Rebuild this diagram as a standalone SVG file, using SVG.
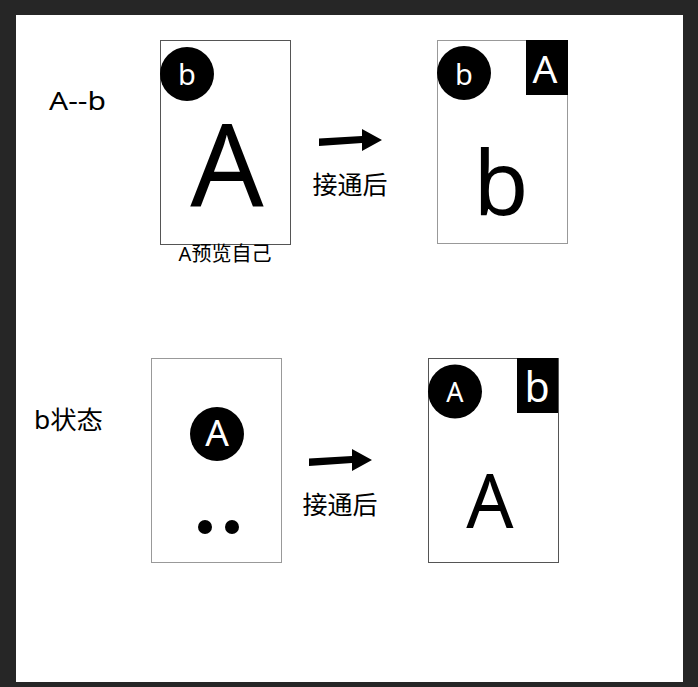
<svg xmlns="http://www.w3.org/2000/svg" width="698" height="687" viewBox="0 0 698 687">
<style>
.t{font-family:"Noto Sans","Noto Sans CJK SC",sans-serif;fill:#000}
.w{font-family:"Noto Sans","Noto Sans CJK SC",sans-serif;fill:#fff}
.c{text-anchor:middle}
.frame{fill:#fff;stroke-width:1}
</style>
<rect x="0" y="0" width="698" height="687" fill="#262626"/>
<rect x="16" y="15" width="667" height="667" fill="#fff"/>
<g id="label-ab"><text class="t" x="49" y="110" font-size="25" textLength="57" lengthAdjust="spacingAndGlyphs">A--b</text></g>
<g id="label-bstate"><text class="t" x="34" y="429" font-size="25" textLength="69" lengthAdjust="spacingAndGlyphs">b状态</text></g>
<g id="phone1">
<rect class="frame" x="160.5" y="40.5" width="130" height="204" stroke="#555"/>
<circle cx="187" cy="74" r="27"/>
<text class="w c" x="187" y="85" font-size="29">b</text>
<text class="t c" x="227" y="207" font-size="115">A</text>
<text class="t c" x="225" y="261" font-size="20">A预览自己</text>
</g>
<g id="phone2">
<rect class="frame" x="437.5" y="40.5" width="130" height="203" stroke="#999"/>
<circle cx="464" cy="73" r="27"/>
<text class="w c" x="464" y="85" font-size="29">b</text>
<rect x="526" y="40" width="42" height="55" fill="#000"/>
<text class="w c" x="545" y="83" font-size="39">A</text>
<text class="t c" x="501" y="215" font-size="90">b</text>
</g>
<g id="phone3">
<rect class="frame" x="151.5" y="358.5" width="130" height="204" stroke="#999"/>
<circle cx="217" cy="434" r="27"/>
<text class="w c" x="217" y="446" font-size="37">A</text>
<circle cx="205" cy="527" r="7"/>
<circle cx="232" cy="527" r="7"/>
</g>
<g id="phone4">
<rect class="frame" x="428.5" y="358.5" width="130" height="204" stroke="#555"/>
<circle cx="455" cy="391.5" r="27"/>
<text class="w c" x="455" y="402" font-size="27">A</text>
<rect x="517" y="358" width="41" height="55" fill="#000"/>
<text class="w c" x="537" y="402" font-size="41">b</text>
<text class="t c" x="490" y="528" font-size="74">A</text>
</g>
<g id="connectors">
<polygon points="319,138.5 362,136 362,129 382,140 362,151 362,143 319,146"/>
<text class="t c" x="350" y="194" font-size="25">接通后</text>
<polygon points="309,458.5 352,456 352,449 372,460 352,471 352,463 309,466"/>
<text class="t c" x="340" y="514" font-size="25">接通后</text>
</g>
</svg>
